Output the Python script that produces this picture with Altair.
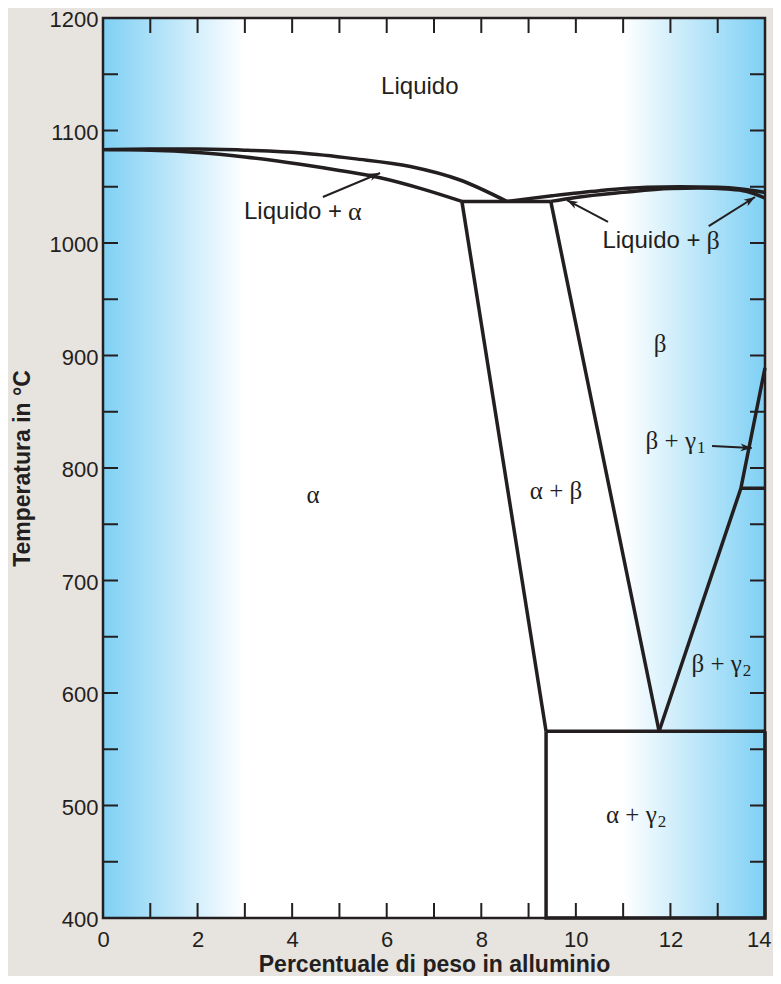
import math
import altair as alt
import pandas as pd

INK = "#231f20"
BLUE = "#7fd0f4"
PAGE = "#e7e3df"
SANS = "Liberation Sans"
SERIF = "Liberation Serif"

W, H = 662, 900

# ---- axes ----
x_tick_values = list(range(0, 15))
x_label_values = [0, 2, 4, 6, 8, 10, 12, 14]
y_tick_values = list(range(400, 1201, 50))
y_label_values = list(range(400, 1201, 100))
x_title = "Percentuale di peso in alluminio"
y_title = "Temperatura in °C"

# ---- phase boundaries (wt% Al, °C) ----
liq_a_x = [0, 1, 2, 3, 4.2, 5.3, 6.5, 7.55, 8.54]
liq_a_t = [1083, 1083.5, 1083.5, 1082.5, 1080, 1075, 1068, 1056, 1037]
sol_a_x = [0, 1, 2, 3, 4.17, 5.0, 5.86, 6.8, 7.59]
sol_a_t = [1083, 1082.5, 1080.5, 1076.5, 1070, 1064.5, 1058, 1047.5, 1037]
liq_b_x = [8.54, 9.5, 10.5, 11.5, 12.2, 13.0, 13.5, 14]
liq_b_t = [1037, 1042, 1046.5, 1049.5, 1050, 1049.5, 1048, 1045]
sol_b_x = [9.47, 10, 11, 12, 12.6, 13.2, 13.6, 14]
sol_b_t = [1037, 1040.5, 1045, 1048.5, 1049, 1048, 1046, 1040]

eut_x = [7.59, 9.47]
eut_t = [1037, 1037]
ab_left_x = [7.59, 9.37]
ab_left_t = [1037, 566]
ab_right_x = [9.47, 11.76]
ab_right_t = [1037, 566]
bg2_x = [11.76, 13.49, 14]
bg2_t = [566, 782, 889]
g1_x = [13.49, 14]
g1_t = [782, 782]
eut2_x = [9.37, 14]
eut2_t = [566, 566]
box_x = [9.37, 9.37, 14, 14]
box_t = [566, 400, 400, 566]

# ---- arrows ----
arrow_tail_x = [4.65, 10.68, 12.81, 12.88]
arrow_tail_t = [1040.9, 1018.7, 1015.0, 819.6]
arrow_head_x = [5.86, 9.81, 13.79, 13.72]
arrow_head_t = [1062.2, 1038.2, 1040.9, 817.8]

# ---- labels ----
sans_center_text = ["Liquido"]
sans_center_x = [6.70]
sans_center_t = [1139]

sans_right_text = ["Liquido +", "Liquido +"]
sans_right_x = [5.12, 12.70]
sans_right_t = [1027.6, 1001.8]
greek_after_text = ["α", "β"]

serif_center_text = ["β", "α", "α + β"]
serif_center_x = [11.78, 4.44, 9.58]
serif_center_t = [910, 776, 780]

serif_main_text = ["β + γ", "β + γ", "α + γ"]
serif_main_x = [12.54, 13.51, 11.71]
serif_main_t = [824, 625.8, 491.6]
sub_text = ["1", "2", "2"]


def segs(named):
    rows = []
    for name, xs_, ts_ in named:
        for i, (a, b) in enumerate(zip(xs_, ts_)):
            rows.append({"seg": name, "i": i, "x": a, "t": b})
    return pd.DataFrame(rows)


curves_df = segs([("liq_a", liq_a_x, liq_a_t), ("sol_a", sol_a_x, sol_a_t),
                  ("liq_b", liq_b_x, liq_b_t), ("sol_b", sol_b_x, sol_b_t)])
straight_df = segs([("eut", eut_x, eut_t), ("abl", ab_left_x, ab_left_t),
                    ("abr", ab_right_x, ab_right_t), ("bg2", bg2_x, bg2_t),
                    ("g1", g1_x, g1_t), ("eut2", eut2_x, eut2_t),
                    ("box", box_x, box_t)])

xs = alt.Scale(domain=[0, 14], nice=False, zero=False)
ys = alt.Scale(domain=[400, 1200], nice=False, zero=False)

x_axis = alt.Axis(values=x_label_values, title=x_title, ticks=False, tickSize=0,
                  domain=False, grid=False, labelFlush=True, labelFlushOffset=6,
                  labelOverlap=False, format="d",
                  labelFont=SANS, labelFontSize=22, labelColor=INK, labelPadding=11,
                  titleFont=SANS, titleFontSize=23, titleFontWeight="bold",
                  titleColor=INK, titleY=53, titleBaseline="alphabetic")
y_axis = alt.Axis(values=y_label_values, title=y_title, ticks=False, tickSize=0,
                  domain=False, grid=False, labelFlush=False, labelOverlap=False,
                  format="d", labelOffset=1.5,
                  labelFont=SANS, labelFontSize=22, labelColor=INK, labelPadding=5,
                  titleFont=SANS, titleFontSize=23, titleFontWeight="bold",
                  titleColor=INK, titleAngle=270, titleX=-81, titleY=H / 2,
                  titleAlign="center", titleBaseline="middle")


def X(f):
    return alt.X(f, type="quantitative", scale=xs, axis=x_axis)


def Y(f):
    return alt.Y(f, type="quantitative", scale=ys, axis=y_axis)


band_l = pd.DataFrame({"x": [0], "x2": [3], "y": [400], "y2": [1200]})
band_r = pd.DataFrame({"x": [11], "x2": [14], "y": [400], "y2": [1200]})

grad_l = alt.LinearGradient(gradient="linear", x1=0, x2=1, y1=0, y2=0,
                            stops=[alt.GradientStop(color=BLUE, offset=0),
                                   alt.GradientStop(color="#ffffff", offset=1)])
grad_r = alt.LinearGradient(gradient="linear", x1=0, x2=1, y1=0, y2=0,
                            stops=[alt.GradientStop(color="#ffffff", offset=0),
                                   alt.GradientStop(color=BLUE, offset=1)])

left_band = alt.Chart(band_l).mark_rect(color=grad_l).encode(
    x=X("x"), x2="x2", y=Y("y"), y2="y2")
right_band = alt.Chart(band_r).mark_rect(color=grad_r).encode(
    x=X("x"), x2="x2", y=Y("y"), y2="y2")

frame_df = pd.DataFrame({"x": [0], "x2": [14], "y": [400], "y2": [1200]})
frame = alt.Chart(frame_df).mark_rect(fillOpacity=0, stroke=INK, strokeWidth=2.5).encode(
    x=X("x"), x2="x2", y=Y("y"), y2="y2")

xt = pd.DataFrame({"v": x_tick_values})
yt = pd.DataFrame({"v": y_tick_values})
TL = 15
ticks_b = alt.Chart(xt).mark_rule(color=INK, strokeWidth=2).encode(
    x=X("v"), y=alt.value(H), y2=alt.value(H - TL))
ticks_t = alt.Chart(xt).mark_rule(color=INK, strokeWidth=2).encode(
    x=X("v"), y=alt.value(0), y2=alt.value(TL))
ticks_l = alt.Chart(yt).mark_rule(color=INK, strokeWidth=2).encode(
    y=Y("v"), x=alt.value(0), x2=alt.value(TL))
ticks_r = alt.Chart(yt).mark_rule(color=INK, strokeWidth=2).encode(
    y=Y("v"), x=alt.value(W), x2=alt.value(W - TL))

curves = alt.Chart(curves_df).mark_line(color=INK, strokeWidth=3.5, interpolate="monotone").encode(
    x=X("x"), y=Y("t"), detail="seg:N", order="i:Q")
straight = alt.Chart(straight_df).mark_line(color=INK, strokeWidth=3.5).encode(
    x=X("x"), y=Y("t"), detail="seg:N", order="i:Q")

pxx = W / 14.0
pxt = H / 800.0
angles = []
for tx, tt, hx, ht in zip(arrow_tail_x, arrow_tail_t, arrow_head_x, arrow_head_t):
    a = math.degrees(math.atan2((hx - tx) * pxx, (ht - tt) * pxt)) % 360
    angles.append(a)
arrows_df = pd.DataFrame({"tx": arrow_tail_x, "tt": arrow_tail_t,
                          "hx": arrow_head_x, "ht": arrow_head_t, "ang": angles})

arrow_lines = alt.Chart(arrows_df).mark_rule(color=INK, strokeWidth=2).encode(
    x=X("tx"), y=Y("tt"), x2="hx", y2="ht")
HEAD = "M0,0 L0.34,1 L0,0.72 L-0.34,1 Z"
arrow_heads = alt.Chart(arrows_df).mark_point(
    shape=HEAD, filled=True, size=500, color=INK, opacity=1, strokeWidth=0).encode(
    x=X("hx"), y=Y("ht"), angle=alt.Angle("ang:Q", scale=None))

t1 = pd.DataFrame({"s": sans_center_text, "x": sans_center_x, "t": sans_center_t})
t2 = pd.DataFrame({"s": sans_right_text, "x": sans_right_x, "t": sans_right_t,
                   "g": greek_after_text})
t3 = pd.DataFrame({"s": serif_center_text, "x": serif_center_x, "t": serif_center_t})
t4 = pd.DataFrame({"s": serif_main_text, "x": serif_main_x, "t": serif_main_t,
                   "sub": sub_text})

lab1 = alt.Chart(t1).mark_text(font=SANS, fontSize=24, color=INK, align="center",
                               baseline="middle").encode(x=X("x"), y=Y("t"), text="s:N")
lab2a = alt.Chart(t2).mark_text(font=SANS, fontSize=24, color=INK, align="right",
                                baseline="middle", dx=-3).encode(x=X("x"), y=Y("t"), text="s:N")
lab2b = alt.Chart(t2).mark_text(font=SERIF, fontSize=26, color=INK, align="left",
                                baseline="middle", dx=3).encode(x=X("x"), y=Y("t"), text="g:N")
lab3 = alt.Chart(t3).mark_text(font=SERIF, fontSize=25, color=INK, align="center",
                               baseline="middle").encode(x=X("x"), y=Y("t"), text="s:N")
lab4a = alt.Chart(t4).mark_text(font=SERIF, fontSize=25, color=INK, align="right",
                                baseline="middle").encode(x=X("x"), y=Y("t"), text="s:N")
lab4b = alt.Chart(t4).mark_text(font=SERIF, fontSize=17, color=INK, align="left",
                                baseline="middle", dx=1, dy=7).encode(x=X("x"), y=Y("t"), text="sub:N")

chart = alt.layer(
    left_band, right_band, curves, straight, arrow_lines, arrow_heads,
    ticks_b, ticks_t, ticks_l, ticks_r, frame,
    lab1, lab2a, lab2b, lab3, lab4a, lab4b,
).properties(
    width=W, height=H,
    padding={"left": 95, "top": 10, "right": 8, "bottom": 58},
    autosize=alt.AutoSizeParams(type="none"),
).configure(background=PAGE).configure_view(fill="white", strokeWidth=0)

chart.save("out.html", embed_options={"renderer": "svg", "actions": False})
